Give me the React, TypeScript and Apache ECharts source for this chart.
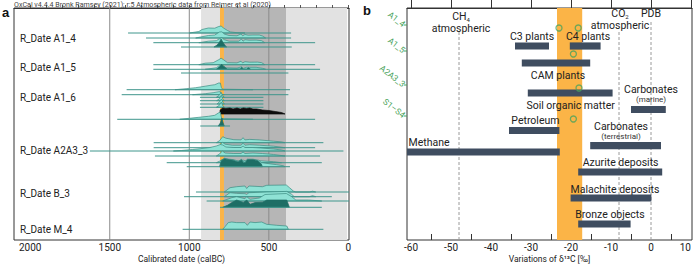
import React, { useEffect, useRef } from "react";
import * as echarts from "echarts";

const FONT = "Roboto, 'Noto Sans', sans-serif";

// ---------- Panel a: calibrated radiocarbon dates (years calBC) ----------
const calTicks = [0, 100, 200, 300, 400, 500, 600, 700, 800, 900, 1000, 1100, 1200, 1300, 1400, 1500, 1600, 1700, 1800, 1900, 2000];
const calLabels = [0, 500, 1000, 1500, 2000];
const calGuides = [1500, 1000, 500];
const calBands = [
  { from: 926, to: 8, tone: "outer" },
  { from: 782, to: 392, tone: "inner" },
  { from: 807, to: 782, tone: "highlight" },
];

const groupNames = ["R_Date A1_4", "R_Date A1_5", "R_Date A1_6", "R_Date A2A3_3", "R_Date B_3", "R_Date M_4"];
const groupRows = [30.5, 59.5, 89.5, 142, 185, 221];

type Dist = {
  row: number;
  span?: [number, number];
  likelihood?: number[][];
  posterior?: number[][];
  sum?: number[][];
};

const a1_4: Dist[] = [
  { row: 25, span: [1385, 360], likelihood: [[1000, 0], [940, 1.5], [920, 3.5], [880, 5], [840, 4.8], [815, 6.5], [800, 7], [785, 5], [760, 2.5], [740, 1], [700, 0.3], [650, 0]] },
  { row: 30, span: [1272, 360], likelihood: [[960, 0], [930, 1], [880, 2.5], [840, 3], [810, 6], [795, 6.2], [780, 4], [750, 2.5], [700, 2.2], [675, 4], [665, 2.2], [650, 3.5], [630, 2.8], [600, 3], [560, 3], [540, 2], [520, 0]] },
  { row: 34.7, span: [1226, 209], likelihood: [[940, 0], [880, 1.5], [830, 2], [810, 4], [795, 5], [780, 3], [750, 1.5], [690, 1.5], [672, 3.5], [662, 1.5], [650, 3], [625, 2.5], [580, 2.6], [545, 2], [525, 0]] },
  { row: 39, span: [1052, 356], posterior: [[845, 0], [825, 2], [810, 5], [800, 8], [790, 5], [775, 1.5], [765, 0]] },
];

const a1_5: Dist[] = [
  { row: 56.7, span: [1226, 209], likelihood: [[940, 0], [900, 1.5], [850, 2], [815, 5], [800, 6.5], [785, 5], [760, 2], [700, 1.8], [675, 3.5], [665, 1.8], [650, 3], [620, 2.5], [570, 2.6], [545, 2], [525, 0]] },
  {
    row: 61.3, span: [1226, 178],
    likelihood: [[900, 0], [830, 1.5], [805, 4.5], [790, 4], [770, 1.5], [700, 1.2], [672, 2.5], [660, 1], [640, 2], [580, 2], [540, 1], [520, 0]],
    posterior: [[830, 0], [810, 2.5], [797, 5], [785, 3], [760, 0], [680, 0], [671, 2], [662, 0], [640, 0], [629, 1.5], [615, 0]],
  },
  { row: 65, span: [1052, 377] },
];

const a1_6: Dist[] = [
  { row: 81.7, span: [1394, 367], likelihood: [[1090, 0], [1020, 1], [960, 2], [900, 3.5], [870, 4.3], [840, 5], [815, 6.7], [805, 6.7], [798, 2], [790, 0.5], [700, 0.3], [600, 0]] },
  { row: 86.7, span: [1425, 377], likelihood: [[980, 0], [900, 1], [850, 2], [815, 3], [805, 3], [798, 0.5], [780, 0]] },
  { row: 89.3, span: [933, 534], likelihood: [[830, 0], [812, 2], [800, 5], [792, 2], [780, 0]] },
  { row: 92.7, span: [933, 534], likelihood: [[828, 0], [810, 2], [799, 5.5], [791, 2], [780, 0]] },
  { row: 96, span: [933, 534], likelihood: [[826, 0], [810, 2.2], [798, 5], [790, 2], [779, 0]] },
  { row: 99.3, span: [933, 534], likelihood: [[830, 0], [811, 2], [799, 5.2], [791, 2], [780, 0]] },
  { row: 106, sum: [[808, 0], [806, 4], [790, 6], [770, 5.5], [745, 6], [725, 5], [700, 6], [680, 5], [660, 6], [640, 5.5], [620, 6], [600, 5], [576, 5], [540, 4], [500, 3.5], [460, 2.5], [420, 1.5], [398, 0]] },
  { row: 111.3, span: [1453, 209], likelihood: [[1060, 0], [1000, 1], [940, 2], [880, 3], [840, 4], [815, 6.5], [805, 7], [797, 1], [780, 0.5], [700, 0.3], [600, 0]] },
  { row: 118, span: [931, 744], posterior: [[818, 0], [805, 3], [795, 8], [787, 3], [780, 0]] },
];

const a2a3_3: Dist[] = [
  { row: 134.7, span: [1224, 157], likelihood: [[830, 0], [810, 2], [790, 6], [770, 4.5], [720, 3], [675, 2.8], [662, 5], [650, 2.8], [620, 3.3], [560, 2.8], [470, 1.5], [420, 0.8], [398, 0]] },
  { row: 139.7, span: [1224, 209], likelihood: [[840, 0], [810, 2], [792, 5.5], [775, 3.5], [730, 2.5], [675, 2.5], [662, 4.5], [650, 2.5], [620, 3], [560, 2.5], [470, 1.5], [398, 0]] },
  { row: 143, span: [1625, 31], likelihood: [[1100, 0], [1050, 0.5], [980, 1.5], [920, 2.5], [870, 3.5], [830, 5], [805, 6.5], [790, 6], [770, 4], [720, 3.5], [675, 3.5], [662, 5], [650, 3.5], [600, 3.5], [550, 3], [470, 2], [420, 1], [398, 0]] },
  { row: 148, span: [1216, 178], likelihood: [[830, 0], [810, 2], [792, 5], [775, 3], [720, 2.5], [675, 2.5], [662, 4], [650, 2.5], [600, 3], [540, 2.5], [470, 1.5], [398, 0]] },
  { row: 154.7, span: [1142, 167], likelihood: [[830, 0], [810, 1.5], [795, 3], [770, 2], [700, 1.5], [660, 2.5], [640, 1.5], [560, 2], [470, 1], [420, 0]] },
  {
    row: 158.7, span: [1016, 367],
    likelihood: [[810, 0], [798, 6.5], [780, 8.5], [750, 7.5], [720, 7], [690, 5.5], [672, 7.5], [655, 4.5], [635, 7.5], [600, 7.5], [565, 6.5], [545, 4], [500, 3], [450, 2], [410, 1], [398, 0]],
    posterior: [[808, 0], [798, 6], [780, 8], [750, 7], [723, 6.5], [700, 5], [690, 5], [672, 7], [660, 4], [650, 4], [635, 7], [600, 7], [570, 6], [548, 3], [540, 0]],
  },
];

const b_3: Dist[] = [
  { row: 184, span: [958, -4], likelihood: [[780, 0], [744, 4.3], [702, 5.3], [650, 6], [639, 3.5], [625, 6], [540, 5.3], [513, 6.7], [390, 7], [370, 4.3], [346, 1], [330, 0], [245, 0], [225, 0.8], [205, 0]] },
  { row: 188.7, span: [1033, 104], likelihood: [[780, 0], [744, 4], [702, 3.3], [650, 3], [639, 2.3], [625, 4], [513, 4.7], [387, 5.3], [356, 2.3], [340, 0], [245, 0], [225, 1], [205, 0]] },
  { row: 193, span: [891, -4], likelihood: [[790, 0], [733, 3.3], [702, 4.3], [650, 2.3], [639, 4.3], [618, 1.7], [560, 3], [524, 6.5], [390, 7.5], [356, 4.3], [330, 1], [250, 1], [167, 0]] },
  { row: 199.3, span: [807, 167], posterior: [[790, 0], [760, 2], [733, 4.7], [702, 7.3], [660, 4.7], [639, 7.3], [618, 3], [587, 4.7], [540, 5], [524, 6.3], [513, 7.3], [387, 7.3], [371, 0]] },
];

const m_4: Dist[] = [
  { row: 221.3, span: [1042, 157], likelihood: [[790, 0], [775, 2.7], [755, 6.7], [733, 7.3], [702, 6.7], [650, 6.7], [635, 4], [618, 7.3], [587, 6.7], [545, 7.3], [513, 5], [450, 4], [387, 3.3], [377, 0]] },
];

const distributions: Dist[] = [...a1_4, ...a1_5, ...a1_6, ...a2a3_3, ...b_3, ...m_4];

// ---------- Panel b: δ13C ranges of carbon sources (‰) ----------
const d13cTicks = [-60, -50, -40, -30, -20, -10, 0, 10];
const d13cMinorTicks = [-55, -45, -35, -25, -15, -5, 5];
const d13cBand = [-23.5, -17.2];

const sourceNames = ["C3 plants", "C4 plants", "CAM plants", "Soil organic matter", "Carbonates (marine)", "Petroleum", "Carbonates (terrestrial)", "Methane", "Azurite deposits", "Malachite deposits", "Bronze objects"];
const sourceLow = [-34, -20.3, -32.3, -30.8, -5, -35.5, -15.2, -61, -18.2, -20.1, -18.2];
const sourceHigh = [-25.5, -12.6, -15.2, -9.6, 3.7, -22.9, 2.5, -22.8, 2.8, 0.1, -5.1];
const sourceRows = [38, 38, 55, 85, 101.5, 122.5, 137.7, 144, 164, 190, 216];

const referenceNames = ["CH4 atmospheric", "CO2 atmospheric", "PDB"];
const referenceValues = [-48, -8, 0];

const sampleNames = ["A1_4", "A1_5", "A2A3_3", "S1–S4"];
const sampleRows = [20, 46, 80, 111];
const sampleD13C = [[-23, -18.2], [-19.4], [-18], [-19.4]];

// label layout for panel b (value-space anchors: [δ13C, row])
const sourceLabelText: Record<string, string> = {
  "C3 plants": "{m|C3 plants}",
  "C4 plants": "{m|C4 plants}",
  "CAM plants": "{m|CAM plants}",
  "Soil organic matter": "{m|Soil organic matter}",
  "Carbonates (marine)": "{m|Carbonates}\n{s|(marine)}",
  "Petroleum": "{m|Petroleum}",
  "Carbonates (terrestrial)": "{m|Carbonates}\n{s|(terrestrial)}",
  "Methane": "{m|Methane}",
  "Azurite deposits": "{m|Azurite deposits}",
  "Malachite deposits": "{m|Malachite deposits}",
  "Bronze objects": "{m|Bronze objects}",
};
const sourceLabelAt: Record<string, [number, number]> = {
  "C3 plants": [-29.75, 28.7],
  "C4 plants": [-15.75, 28.7],
  "CAM plants": [-23.25, 67],
  "Soil organic matter": [-20.1, 97],
  "Carbonates (marine)": [0, 86],
  "Petroleum": [-28.9, 112],
  "Carbonates (terrestrial)": [-7.5, 123.5],
  "Methane": [-55.5, 134],
  "Azurite deposits": [-7.6, 154.7],
  "Malachite deposits": [-9, 181],
  "Bronze objects": [-10.25, 206],
};
const referenceLabelText: Record<string, string> = {
  "CH4 atmospheric": "{m|CH}{sub|4}\n{m|atmospheric}",
  "CO2 atmospheric": "{m|CO}{sub|2}\n{m|atmospheric}",
  "PDB": "{m|PDB}",
};
const referenceLabelAt: Record<string, [number, number]> = {
  "CH4 atmospheric": [-47.5, 14],
  "CO2 atmospheric": [-7.75, 11.5],
  "PDB": [0, 5],
};
const referenceLineFrom = [24, 24, 14];

const C = {
  text: "#222",
  frame: "#333",
  outer: "#e2e2e2",
  inner: "#b6b6b6",
  highlight: "#fbb447",
  guide: "#8a8a8a",
  base: "#3f968c",
  likeFill: "#8fe2d5",
  likeStroke: "#3b8c82",
  post: "#1e6e65",
  sum: "#0d0d0d",
  bar: "#3f4d60",
  sample: "#4aa35c",
  dashed: "#9a9a9a",
};

const ROW_MAX = 232;

export default function App() {
  const ref = useRef<HTMLDivElement>(null);

  useEffect(() => {
    document.body.style.margin = "0";
    if (!ref.current) return;
    const chart = echarts.init(ref.current, undefined, { renderer: "svg" });

    const bandColor = (tone: string) => (tone === "outer" ? C.outer : tone === "inner" ? C.inner : C.highlight);
    const plain = (v: number) => String(v);

    const option: any = {
      animation: false,
      backgroundColor: "#fff",
      textStyle: { fontFamily: FONT },
      title: [
        { text: "OxCal v4.4.4 Bronk Ramsey (2021); r:5 Atmospheric data from Reimer et al (2020)", left: 14, top: 0.5, padding: 0, textStyle: { fontSize: 7.1, fontWeight: "normal", color: "#444", fontFamily: FONT } },
        { text: "a", left: 2, top: 6, padding: 0, textStyle: { fontSize: 13, fontWeight: "bold", color: "#111", fontFamily: "'Liberation Sans', Arial, sans-serif" } },
        { text: "b", left: 363, top: 4, padding: 0, textStyle: { fontSize: 13, fontWeight: "bold", color: "#111", fontFamily: "'Liberation Sans', Arial, sans-serif" } },
      ],
      grid: [
        { left: 14, right: 344, top: 8, height: 232, show: true, borderColor: C.frame, borderWidth: 1, backgroundColor: "transparent", outerBoundsMode: "none", containLabel: false },
        { left: 407, right: 1, top: 8, height: 232, show: true, borderColor: C.frame, borderWidth: 1, backgroundColor: "transparent", outerBoundsMode: "none", containLabel: false },
      ],
      xAxis: [
        {
          type: "value", gridIndex: 0, min: -4, max: 2102, inverse: true,
          axisLine: { show: true, lineStyle: { color: C.frame } },
          axisTick: { show: true, inside: true, length: 3, customValues: calTicks, lineStyle: { color: "#555" } },
          axisLabel: { customValues: calLabels, formatter: plain, fontSize: 10, color: C.text, margin: 2, fontFamily: FONT },
          splitLine: { show: false },
          name: "Calibrated date (calBC)", nameLocation: "middle", nameGap: 14, nameMoveOverlap: false,
          nameTextStyle: { fontSize: 8.5, lineHeight: 10, color: C.text, fontFamily: FONT },
        },
        {
          type: "value", gridIndex: 1, min: -61, max: 10.25, position: "bottom",
          axisLine: { show: true, lineStyle: { color: C.frame } },
          axisTick: { show: true, inside: true, length: 11, customValues: d13cTicks, lineStyle: { color: C.frame } },
          axisLabel: { customValues: d13cTicks, formatter: plain, fontSize: 10, color: C.text, margin: 2, fontFamily: FONT, alignMaxLabel: "right" },
          splitLine: { show: false },
          name: "Variations of δ¹³C [‰]", nameLocation: "middle", nameGap: 14, nameMoveOverlap: false,
          nameTextStyle: { fontSize: 8.5, lineHeight: 10, color: C.text, fontFamily: FONT },
        },
        {
          type: "value", gridIndex: 1, min: -61, max: 10.25, position: "bottom", offset: 0,
          axisLine: { show: false },
          axisTick: { show: true, inside: true, length: 6, customValues: d13cMinorTicks, lineStyle: { color: C.frame } },
          axisLabel: { show: false },
          splitLine: { show: false },
        },
      ],
      yAxis: [
        { type: "value", gridIndex: 0, min: 0, max: ROW_MAX, inverse: true, show: false },
        { type: "value", gridIndex: 1, min: 0, max: ROW_MAX, inverse: true, show: false },
      ],
      series: [
        // period shading and reference lines of panel a
        {
          type: "custom", xAxisIndex: 0, yAxisIndex: 0, silent: true, z: 1,
          data: calBands.map((b) => [b.from, b.to]),
          renderItem: (params: any, api: any) => {
            const b = calBands[params.dataIndex];
            const p0 = api.coord([b.from, 0]);
            const p1 = api.coord([b.to, ROW_MAX]);
            return { type: "rect", shape: { x: p0[0], y: p0[1], width: p1[0] - p0[0], height: p1[1] - p0[1] }, style: { fill: bandColor(b.tone) } };
          },
        },
        {
          type: "custom", xAxisIndex: 0, yAxisIndex: 0, silent: true, z: 2,
          data: calGuides.map((g) => [g, 0]),
          renderItem: (params: any, api: any) => {
            const g = calGuides[params.dataIndex];
            const p0 = api.coord([g, 0]);
            const p1 = api.coord([g, ROW_MAX]);
            return { type: "line", shape: { x1: p0[0], y1: p0[1], x2: p1[0], y2: p1[1] }, style: { stroke: C.guide, lineWidth: 1 } };
          },
        },
        // probability distributions
        {
          type: "custom", xAxisIndex: 0, yAxisIndex: 0, silent: true, z: 3, clip: true,
          data: distributions.map((d) => [d.span ? d.span[0] : 800, d.row]),
          renderItem: (params: any, api: any) => {
            const d = distributions[params.dataIndex];
            const children: any[] = [];
            const poly = (pts: number[][], fill: string, stroke: string) => ({
              type: "polygon",
              shape: { points: pts.map(([yr, h]) => api.coord([yr, d.row - h])) },
              style: { fill, stroke, lineWidth: 0.7, lineJoin: "round" },
            });
            if (d.likelihood) children.push(poly(d.likelihood, C.likeFill, C.likeStroke));
            if (d.posterior) children.push(poly(d.posterior, C.post, C.post));
            if (d.sum) children.push(poly(d.sum, C.sum, C.sum));
            if (d.span) {
              const p0 = api.coord([d.span[0], d.row]);
              const p1 = api.coord([d.span[1], d.row]);
              children.push({ type: "line", shape: { x1: p0[0], y1: p0[1], x2: p1[0], y2: p1[1] }, style: { stroke: C.base, lineWidth: 1 } });
            }
            return { type: "group", children };
          },
        },
        // group labels
        {
          type: "custom", xAxisIndex: 0, yAxisIndex: 0, silent: true, z: 4,
          data: groupRows.map((r) => [2065, r]),
          renderItem: (params: any, api: any) => {
            const p = api.coord([2065, groupRows[params.dataIndex]]);
            return { type: "text", x: p[0], y: p[1], style: { text: groupNames[params.dataIndex], fontSize: 10, fontFamily: FONT, fill: C.text, align: "left", verticalAlign: "middle" } };
          },
        },
        // panel b: highlighted δ13C band
        {
          type: "custom", xAxisIndex: 1, yAxisIndex: 1, silent: true, z: 1,
          data: [[d13cBand[0], 0]],
          renderItem: (params: any, api: any) => {
            const p0 = api.coord([d13cBand[0], 0]);
            const p1 = api.coord([d13cBand[1], ROW_MAX]);
            return { type: "rect", shape: { x: p0[0], y: p0[1], width: p1[0] - p0[0], height: p1[1] - p0[1] }, style: { fill: C.highlight } };
          },
        },
        // reference lines (dashed) with labels
        {
          type: "custom", xAxisIndex: 1, yAxisIndex: 1, silent: true, z: 2,
          data: referenceValues.map((v) => [v, 0]),
          renderItem: (params: any, api: any) => {
            const i = params.dataIndex;
            const name = referenceNames[i];
            const p0 = api.coord([referenceValues[i], referenceLineFrom[i]]);
            const p1 = api.coord([referenceValues[i], ROW_MAX]);
            const lp = api.coord(referenceLabelAt[name]);
            return {
              type: "group",
              children: [
                { type: "line", shape: { x1: p0[0], y1: p0[1], x2: p1[0], y2: p1[1] }, style: { stroke: C.dashed, lineWidth: 1, lineDash: [3, 2] } },
                {
                  type: "text", x: lp[0], y: lp[1],
                  style: {
                    text: referenceLabelText[name], align: "center", verticalAlign: "middle", fill: C.text,
                    rich: {
                      m: { fontSize: 10.5, fontFamily: FONT, lineHeight: 12, fill: C.text },
                      sub: { fontSize: 6, fontFamily: FONT, verticalAlign: "bottom", lineHeight: 12, padding: [6, 0, 0, 0], fill: C.text },
                    },
                  },
                },
              ],
            };
          },
        },
        // source ranges
        {
          type: "custom", xAxisIndex: 1, yAxisIndex: 1, silent: true, z: 3,
          data: sourceNames.map((_, i) => [sourceLow[i], sourceRows[i]]),
          renderItem: (params: any, api: any) => {
            const i = params.dataIndex;
            const p0 = api.coord([sourceLow[i], sourceRows[i]]);
            const p1 = api.coord([sourceHigh[i], sourceRows[i]]);
            return { type: "rect", shape: { x: p0[0], y: p0[1] - 3.6, width: p1[0] - p0[0], height: 7.2 }, style: { fill: C.bar } };
          },
        },
        // source labels
        {
          type: "custom", xAxisIndex: 1, yAxisIndex: 1, silent: true, z: 5,
          data: sourceNames.map((n) => sourceLabelAt[n]),
          renderItem: (params: any, api: any) => {
            const n = sourceNames[params.dataIndex];
            const p = api.coord(sourceLabelAt[n]);
            return {
              type: "text", x: p[0], y: p[1],
              style: {
                text: sourceLabelText[n], align: "center", verticalAlign: "middle",
                rich: {
                  m: { fontSize: 10.5, fontFamily: FONT, fill: C.text, lineHeight: 10, align: "center" },
                  s: { fontSize: 8, fontFamily: FONT, fill: "#333", lineHeight: 10, align: "center" },
                },
              },
            };
          },
        },
        // sample tick labels on the left edge
        {
          type: "custom", xAxisIndex: 1, yAxisIndex: 1, silent: true, z: 5, clip: false,
          data: sampleRows.map((r) => [-61, r]),
          renderItem: (params: any, api: any) => {
            const i = params.dataIndex;
            const p = api.coord([-61, sampleRows[i]]);
            const y = p[1] - 3;
            return {
              type: "group",
              children: [
                { type: "line", shape: { x1: p[0] - 3, y1: y, x2: p[0], y2: y }, style: { stroke: C.sample, lineWidth: 1 } },
                {
                  type: "text", x: p[0] - 3, y: y, rotation: (-38 * Math.PI) / 180,
                  style: { text: sampleNames[i], fontSize: 8.5, fontFamily: FONT, fill: C.sample, align: "right", verticalAlign: "middle" },
                },
              ],
            };
          },
        },
        // measured sample values
        {
          type: "scatter", xAxisIndex: 1, yAxisIndex: 1, z: 6, silent: true,
          symbol: "circle", symbolSize: 6,
          itemStyle: { color: "transparent", borderColor: C.sample, borderWidth: 1.3 },
          data: sampleD13C.flatMap((vals, i) => vals.map((v) => [v, sampleRows[i]])),
        },
      ],
    };

    chart.setOption(option);
    return () => chart.dispose();
  }, []);

  return <div ref={ref} style={{ width: 693, height: 264, position: "absolute", left: 0, top: 0 }} />;
}
